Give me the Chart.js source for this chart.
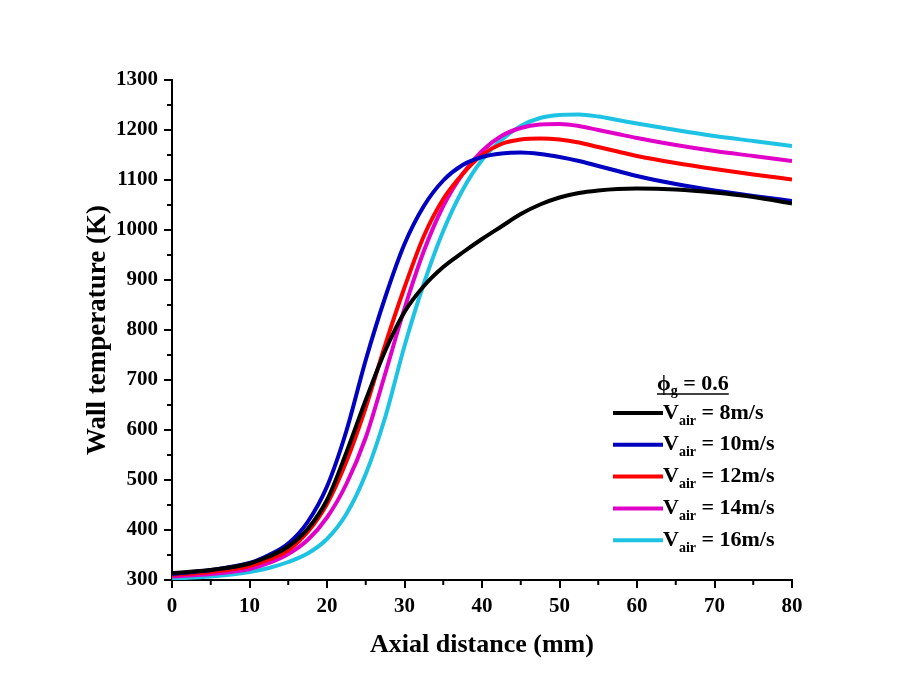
<!DOCTYPE html>
<html>
<head>
<meta charset="utf-8">
<script src="https://cdn.jsdelivr.net/npm/chart.js@4.4.0/dist/chart.umd.min.js"></script>
<style>
  html, body { margin: 0; padding: 0; background: #fff; }
  #wrap { width: 906px; height: 692px; }
</style>
</head>
<body>
<div id="wrap"><canvas id="tempChart"></canvas></div>
<script>
// axial distance (mm)
const distance = [0, 5, 10, 12.5, 15, 17.5, 20, 22.5, 25, 27.5, 30, 32.5, 35, 37.5, 40, 42.5, 45, 47.5, 50, 52.5, 55, 57.5, 60, 65, 70, 75, 80];

// wall temperature (K) for each air velocity
const v8  = [314, 320, 333, 347, 367, 402, 460, 555, 660, 758, 836, 888, 926, 955, 982, 1007, 1032, 1051, 1065, 1074, 1079, 1082, 1083, 1081, 1075, 1066, 1053];
const v10 = [312, 320, 334, 350, 373, 416, 487, 598, 740, 865, 972, 1048, 1099, 1130, 1146, 1153, 1155, 1152, 1146, 1138, 1128, 1118, 1108, 1092, 1079, 1068, 1058];
const v12 = [310, 316, 328, 341, 360, 396, 452, 537, 645, 770, 885, 988, 1062, 1112, 1150, 1172, 1181, 1183, 1181, 1175, 1166, 1157, 1148, 1134, 1122, 1111, 1101];
const v14 = [307, 312, 322, 334, 352, 380, 425, 492, 585, 712, 843, 958, 1048, 1112, 1158, 1188, 1204, 1211, 1212, 1208, 1200, 1192, 1184, 1170, 1158, 1148, 1138];
const v16 = [303, 307, 316, 324, 336, 353, 382, 432, 512, 625, 768, 893, 998, 1080, 1140, 1180, 1208, 1224, 1230, 1231, 1227, 1220, 1213, 1200, 1188, 1178, 1168];

const speeds = ['8', '10', '12', '14', '16'];
const colors = ['#000000', '#0000c0', '#ff0000', '#e000c8', '#1ec3e3'];
const xTicks = [0, 10, 20, 30, 40, 50, 60, 70, 80];
const yTicks = [300, 400, 500, 600, 700, 800, 900, 1000, 1100, 1200, 1300];

const serif = '"Liberation Serif", "Times New Roman", serif';

function toPoints(ys) {
    return distance.map((x, i) => ({ x: x, y: ys[i] }));
}

const series = [v8, v10, v12, v14, v16];

// small outward minor ticks + custom legend with subscripts
const extras = {
    id: 'extras',
    afterDraw(chart) {
        const ctx = chart.ctx;
        const xs = chart.scales.x;
        const ys = chart.scales.y;
        const area = chart.chartArea;
        ctx.save();
        ctx.strokeStyle = '#000';
        ctx.lineWidth = 2;
        for (let v = 5; v < 80; v += 10) {
            const px = xs.getPixelForValue(v);
            ctx.beginPath();
            ctx.moveTo(px, area.bottom);
            ctx.lineTo(px, area.bottom + 5);
            ctx.stroke();
        }
        for (let v = 350; v < 1300; v += 100) {
            const py = ys.getPixelForValue(v);
            ctx.beginPath();
            ctx.moveTo(area.left, py);
            ctx.lineTo(area.left - 5, py);
            ctx.stroke();
        }

        // legend
        ctx.fillStyle = '#000';
        ctx.textBaseline = 'middle';
        ctx.textAlign = 'left';
        const big = 'bold 22px ' + serif;
        const small = 'bold 14px ' + serif;

        // header: phi_g = 0.6 (underlined)
        let hx = 657, hy = 384;
        ctx.font = big;
        ctx.fillText('\u03D5', hx, hy);
        hx += ctx.measureText('\u03D5').width;
        ctx.font = small;
        ctx.fillText('g', hx, hy + 7);
        hx += ctx.measureText('g').width;
        ctx.font = big;
        ctx.fillText(' = 0.6', hx, hy);
        hx += ctx.measureText(' = 0.6').width;
        ctx.lineWidth = 1.5;
        ctx.beginPath();
        ctx.moveTo(657, 394);
        ctx.lineTo(hx, 394);
        ctx.stroke();

        chart.data.datasets.forEach((ds, i) => {
            const y = 413 + i * 31.8;
            ctx.strokeStyle = ds.borderColor;
            ctx.lineWidth = 4;
            ctx.beginPath();
            ctx.moveTo(613, y);
            ctx.lineTo(663, y);
            ctx.stroke();
            let tx = 663;
            ctx.fillStyle = '#000';
            ctx.font = big;
            ctx.fillText('V', tx, y);
            tx += ctx.measureText('V').width;
            ctx.font = small;
            ctx.fillText('air', tx, y + 8);
            tx += ctx.measureText('air').width;
            ctx.font = big;
            ctx.fillText(' = ' + speeds[i] + 'm/s', tx, y);
        });
        ctx.restore();
    }
};

const ctx = document.getElementById('tempChart').getContext('2d');
new Chart(ctx, {
    type: 'line',
    data: {
        datasets: series.map((s, i) => ({
            label: 'Vair = ' + speeds[i] + 'm/s',
            data: toPoints(s),
            borderColor: colors[i],
            backgroundColor: colors[i],
            borderWidth: 4,
            pointRadius: 0,
            cubicInterpolationMode: 'monotone',
            fill: false
        }))
    },
    options: {
        responsive: true,
        maintainAspectRatio: false,
        animation: false,
        layout: {
            padding: { left: 78, top: 80, right: 114, bottom: 27 }
        },
        plugins: {
            legend: { display: false },
            tooltip: { enabled: false }
        },
        scales: {
            x: {
                type: 'linear',
                min: 0,
                max: 80,
                afterFit: (scale) => { scale.height = 85; },
                afterBuildTicks: (scale) => { scale.ticks = xTicks.map(v => ({ value: v })); },
                border: { display: true, color: '#000', width: 2 },
                grid: { drawOnChartArea: false, drawTicks: true, tickLength: 8, color: '#000', lineWidth: 2 },
                ticks: {
                    color: '#000',
                    padding: 6,
                    font: { family: serif, size: 21, weight: 'bold' },
                    callback: (v) => String(v)
                },
                title: {
                    display: true,
                    text: 'Axial distance (mm)',
                    color: '#000',
                    font: { family: serif, size: 26, weight: 'bold' }
                }
            },
            y: {
                min: 300,
                max: 1300,
                afterFit: (scale) => { scale.width = 94; },
                afterBuildTicks: (scale) => { scale.ticks = yTicks.map(v => ({ value: v })); },
                border: { display: true, color: '#000', width: 2 },
                grid: { drawOnChartArea: false, drawTicks: true, tickLength: 8, color: '#000', lineWidth: 2 },
                ticks: {
                    color: '#000',
                    padding: 6,
                    font: { family: serif, size: 21, weight: 'bold' },
                    callback: (v) => String(v)
                },
                title: {
                    display: true,
                    text: 'Wall temperature (K)',
                    color: '#000',
                    font: { family: serif, size: 27, weight: 'bold' }
                }
            }
        }
    },
    plugins: [extras]
});
</script>
</body>
</html>
